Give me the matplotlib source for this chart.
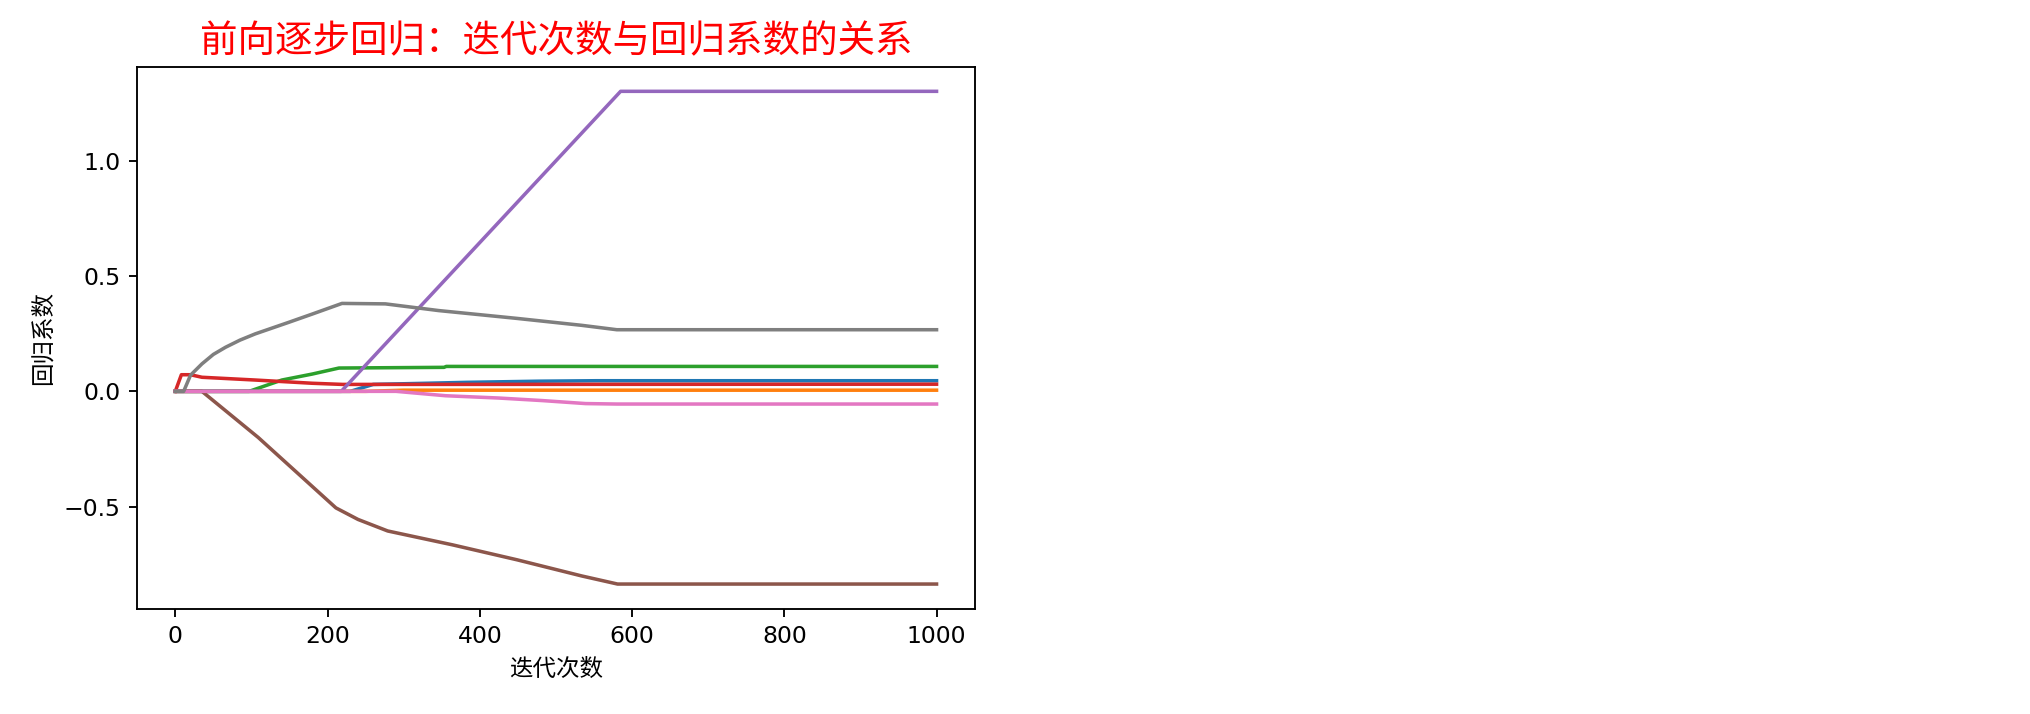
import matplotlib
matplotlib.use("Agg")
import matplotlib.pyplot as plt

plt.rcParams['font.family'] = ['DejaVu Sans', 'Noto Sans CJK SC']
plt.rcParams['axes.unicode_minus'] = True

# breakpoints (iteration, coefficient)
blue_it = [0, 230, 260, 330, 383, 478, 553, 1000]
blue_w = [0, 0, 0.030, 0.035, 0.039, 0.044, 0.046, 0.046]

orange_it = [0, 250, 300, 1000]
orange_w = [0, 0, 0.005, 0.005]

green_it = [0, 97, 140, 180, 215, 353, 356, 1000]
green_w = [0, 0, 0.049, 0.075, 0.101, 0.104, 0.108, 0.108]

red_it = [0, 8, 20, 35, 105, 180, 220, 1000]
red_w = [0, 0.072, 0.072, 0.061, 0.049, 0.035, 0.030, 0.031]

purple_it = [0, 218, 585, 1000]
purple_w = [0, 0, 1.30, 1.30]

brown_it = [0, 35, 109, 211, 240, 279, 364, 449, 534, 581, 1000]
brown_w = [0, 0, -0.20, -0.505, -0.555, -0.605, -0.665, -0.73, -0.80, -0.835, -0.835]

pink_it = [0, 290, 355, 425, 482, 539, 580, 1000]
pink_w = [0, 0, -0.019, -0.029, -0.040, -0.053, -0.055, -0.055]

gray_it = [0, 11, 20, 35, 50, 66, 85, 105, 149, 180, 219, 276, 346, 449, 534, 580, 1000]
gray_w = [0, 0, 0.07, 0.119, 0.160, 0.191, 0.222, 0.249, 0.299, 0.335, 0.381, 0.379, 0.350,
          0.316, 0.286, 0.267, 0.267]

series = [
    (blue_it, blue_w),
    (orange_it, orange_w),
    (green_it, green_w),
    (red_it, red_w),
    (purple_it, purple_w),
    (brown_it, brown_w),
    (pink_it, pink_w),
    (gray_it, gray_w),
]

cjk = ['Noto Sans CJK SC', 'DejaVu Sans']

dpi = 169
fig = plt.figure(figsize=(2030 / dpi, 714 / dpi), dpi=dpi)
ax = fig.add_axes([0.0676, 0.1475, 0.4125, 0.7591])

for it, w in series:
    ax.plot(it, w)

ax.set_title("前向逐步回归：迭代次数与回归系数的关系", color='red', fontsize=16, family=cjk)
ax.set_xlabel("迭代次数", family=cjk)
ax.set_ylabel("回归系数", family=cjk)

fig.savefig("out.png", dpi=dpi)
